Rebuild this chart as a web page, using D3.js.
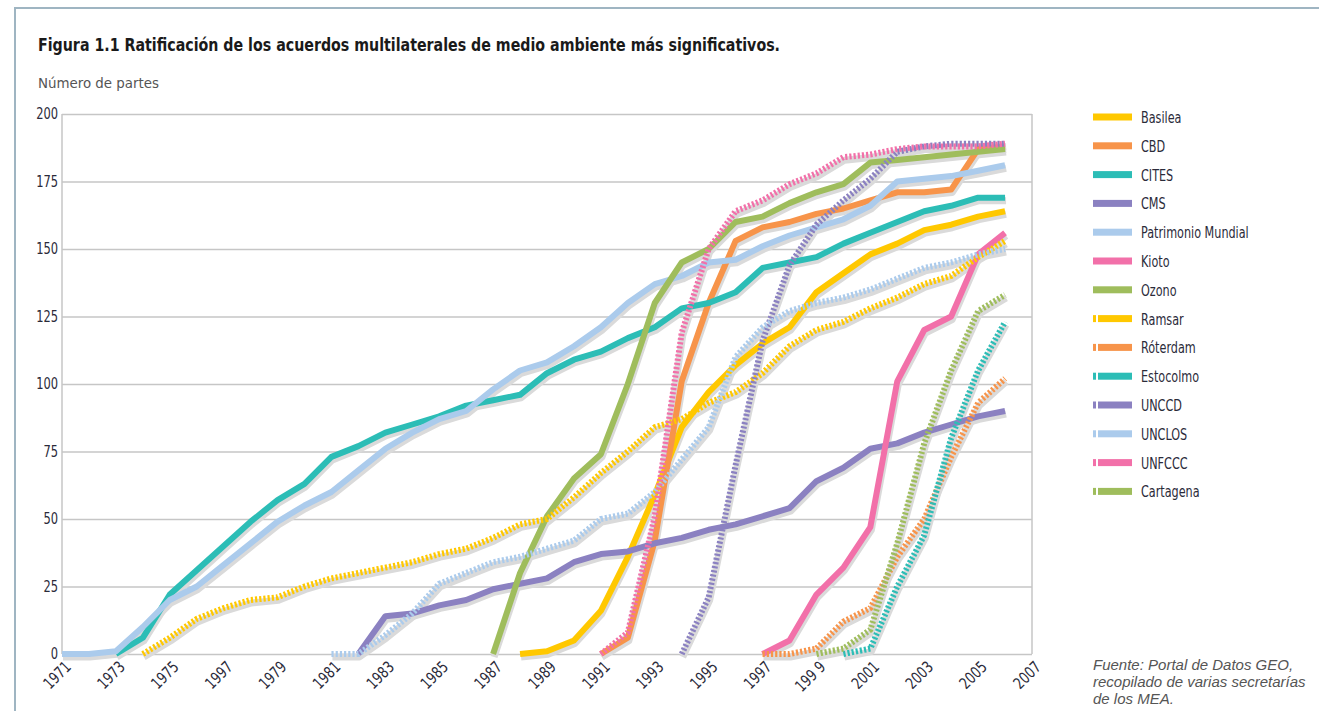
<!DOCTYPE html>
<html>
<head>
<meta charset="utf-8">
<script src="https://cdn.jsdelivr.net/npm/d3@7"></script>
<style>
  body { margin: 0; background: #fff; }
  text { font-family: "Liberation Sans Narrow", "DejaVu Sans Condensed", sans-serif; }
</style>
</head>
<body>
<svg id="chart" width="1319" height="711"></svg>
<script>
// Years on the axis and their printed labels (as in the original figure)
const tickYears = [1971, 1973, 1975, 1977, 1979, 1981, 1983, 1985, 1987, 1989, 1991, 1993, 1995, 1997, 1999, 2001, 2003, 2005, 2007];
const tickLabels = ["1971", "1973", "1975", "1997", "1979", "1981", "1983", "1985", "1987", "1989", "1991", "1993", "1995", "1997", "199 9", "2001", "2003", "2005", "2007"];
const yTicks = [0, 25, 50, 75, 100, 125, 150, 175, 200];

// Number of parties per year, each series starts at its first year
const basilea = [0, 1, 5, 16, 36, 59, 84, 97, 107, 115, 121, 134, 141, 148, 152, 157, 159, 162, 164];          // from 1988
const cbd = [0, 6, 42, 101, 130, 153, 158, 160, 163, 165, 168, 171, 171, 172, 187, 188];                        // from 1991
const cites = [0, 6, 22, 31, 40, 49, 57, 63, 73, 77, 82, 85, 88, 92, 94, 96, 104, 109, 112, 117, 121, 128, 130, 134, 143, 145, 147, 152, 156, 160, 164, 166, 169, 169]; // from 1973
const cms = [0, 14, 15, 18, 20, 24, 26, 28, 34, 37, 38, 41, 43, 46, 48, 51, 54, 64, 69, 76, 78, 82, 85, 88, 90]; // from 1982
const patrimonio = [0, 0, 1, 10, 20, 25, 33, 41, 49, 55, 60, 68, 76, 82, 87, 90, 98, 105, 108, 114, 121, 130, 137, 140, 145, 146, 151, 155, 158, 161, 166, 175, 176, 177, 179, 181]; // from 1971
const kioto = [0, 5, 22, 32, 47, 101, 120, 125, 148, 156];                                                   // from 1997
const ozono = [0, 30, 51, 65, 74, 100, 130, 145, 150, 160, 162, 167, 171, 174, 182, 183, 184, 185, 186, 187];   // from 1987
const ramsar = [0, 6, 13, 17, 20, 21, 25, 28, 30, 32, 34, 37, 39, 43, 48, 50, 58, 67, 75, 84, 87, 93, 97, 104, 114, 120, 123, 128, 132, 137, 140, 147, 153]; // from 1974
const roterdam = [0, 0, 2, 12, 17, 36, 50, 73, 93, 102];                                                     // from 1997
const estocolmo = [0, 2, 25, 44, 80, 105, 123];                                                             // from 2000
const unccd = [0, 21, 70, 116, 144, 159, 168, 176, 186, 188, 189, 189, 189];                                 // from 1994
const unclos = [0, 0, 7, 15, 26, 30, 34, 36, 39, 42, 50, 52, 60, 72, 84, 110, 121, 127, 130, 132, 135, 139, 143, 145, 148, 150]; // from 1981
const unfccc = [0, 8, 51, 119, 150, 164, 168, 174, 178, 184, 185, 187, 188, 188, 188, 189];                 // from 1991
const cartagena = [0, 2, 9, 41, 78, 105, 127, 133];                                                         // from 1999

const series = [
  { name: "Basilea", start: 1988, values: basilea, color: "#ffc800", dotted: false },
  { name: "CBD", start: 1991, values: cbd, color: "#f7944a", dotted: false },
  { name: "CITES", start: 1973, values: cites, color: "#2cbdb6", dotted: false },
  { name: "CMS", start: 1982, values: cms, color: "#8b81c1", dotted: false },
  { name: "Patrimonio Mundial", start: 1971, values: patrimonio, color: "#abcbec", dotted: false },
  { name: "Kioto", start: 1997, values: kioto, color: "#f270a9", dotted: false },
  { name: "Ozono", start: 1987, values: ozono, color: "#9fbd5c", dotted: false },
  { name: "Ramsar", start: 1974, values: ramsar, color: "#ffc800", dotted: true },
  { name: "Róterdam", start: 1997, values: roterdam, color: "#f7944a", dotted: true },
  { name: "Estocolmo", start: 2000, values: estocolmo, color: "#2cbdb6", dotted: true },
  { name: "UNCCD", start: 1994, values: unccd, color: "#8b81c1", dotted: true },
  { name: "UNCLOS", start: 1981, values: unclos, color: "#abcbec", dotted: true },
  { name: "UNFCCC", start: 1991, values: unfccc, color: "#f270a9", dotted: true },
  { name: "Cartagena", start: 1999, values: cartagena, color: "#9fbd5c", dotted: true }
];

const svg = d3.select("#chart");
const margin = { left: 62, right: 1032, top: 114, bottom: 654 };

// outer frame (left and top border)
svg.append("path")
  .attr("d", "M15,711 V8 H1319")
  .attr("fill", "none").attr("stroke", "#9fb5c2").attr("stroke-width", 2);

svg.append("text").attr("x", 38).attr("y", 51)
  .attr("textLength", 742).attr("lengthAdjust", "spacingAndGlyphs")
  .style("font-size", "18px").style("font-weight", "bold").attr("fill", "#1a1a1a")
  .text("Figura 1.1 Ratificación de los acuerdos multilaterales de medio ambiente más significativos.");

svg.append("text").attr("x", 38).attr("y", 88)
  .attr("textLength", 121).attr("lengthAdjust", "spacingAndGlyphs")
  .style("font-size", "14px").attr("fill", "#555")
  .text("Número de partes");

const x = d3.scaleLinear().domain([1971, 2007]).range([margin.left, margin.right]);
const y = d3.scaleLinear().domain([0, 200]).range([margin.bottom, margin.top]);

// grid lines
svg.append("g")
  .attr("transform", `translate(${margin.left},0)`)
  .call(d3.axisLeft(y).tickValues(yTicks).tickSize(-(margin.right - margin.left)).tickFormat(""))
  .call(g => g.select(".domain").remove())
  .selectAll("line").attr("stroke", "#c6c6c6").attr("stroke-width", 1.5);

// plot frame sides
svg.append("line").attr("x1", margin.left).attr("x2", margin.left).attr("y1", margin.top).attr("y2", margin.bottom)
  .attr("stroke", "#c6c6c6").attr("stroke-width", 1.5);
svg.append("line").attr("x1", margin.right).attr("x2", margin.right).attr("y1", margin.top).attr("y2", margin.bottom)
  .attr("stroke", "#c6c6c6").attr("stroke-width", 1.5);

// y tick labels
svg.append("g")
  .selectAll("text").data(yTicks).join("text")
  .attr("transform", d => `translate(${margin.left - 4},${y(d) + 5}) scale(0.85,1)`)
  .attr("text-anchor", "end")
  .style("font-size", "15px").attr("fill", "#2b2b3a")
  .text(d => d);

// x tick labels (rotated)
svg.append("g")
  .selectAll("text").data(tickYears).join("text")
  .attr("transform", d => `translate(${x(d) + 10},${margin.bottom + 14}) rotate(-45) scale(0.85,1)`)
  .attr("text-anchor", "end")
  .style("font-size", "16px").attr("fill", "#2b2b3a")
  .text((d, i) => tickLabels[i]);

const line = d3.line()
  .x(d => x(d.year))
  .y(d => y(d.value));

const pts = s => s.values.map((v, i) => ({ year: s.start + i, value: v }));

// shadows
svg.append("g").attr("transform", "translate(1,3)")
  .selectAll("path").data(series).join("path")
  .attr("d", d => line(pts(d)))
  .attr("fill", "none").attr("stroke", "#dadada").attr("stroke-width", 7)
  .attr("stroke-linejoin", "round");

// solid first, dotted on top
const ordered = series.filter(s => !s.dotted).concat(series.filter(s => s.dotted));
svg.append("g")
  .selectAll("path").data(ordered).join("path")
  .attr("d", d => line(pts(d)))
  .attr("fill", "none")
  .attr("stroke", d => d.color)
  .attr("stroke-width", 6)
  .attr("stroke-dasharray", d => d.dotted ? "2.2,2" : null)
  .attr("stroke-linejoin", "round");

// legend
const legend = svg.append("g").attr("transform", "translate(1093,117)");
series.forEach((s, i) => {
  const row = legend.append("g").attr("transform", `translate(0,${i * 28.8})`);
  if (s.dotted) {
    row.append("rect").attr("x", 0).attr("y", -3.5).attr("width", 3).attr("height", 7).attr("fill", s.color);
    row.append("rect").attr("x", 5).attr("y", -3.5).attr("width", 34).attr("height", 7).attr("fill", s.color);
  } else {
    row.append("rect").attr("x", 0).attr("y", -3.5).attr("width", 39).attr("height", 7).attr("fill", s.color);
  }
  row.append("text").attr("transform", "translate(48,6) scale(0.78,1)")
    .style("font-size", "16px").attr("fill", "#2b2b3a")
    .text(s.name);
});

// source note
const note = ["Fuente: Portal de Datos GEO,", "recopilado de varias secretarías", "de los MEA."];
svg.append("g").selectAll("text").data(note).join("text")
  .attr("x", 1093).attr("y", (d, i) => 670 + i * 17)
  .style("font-size", "15px").style("font-style", "italic").attr("fill", "#555")
  .style("font-family", "'Liberation Sans', sans-serif")
  .text(d => d);
</script>
</body>
</html>
